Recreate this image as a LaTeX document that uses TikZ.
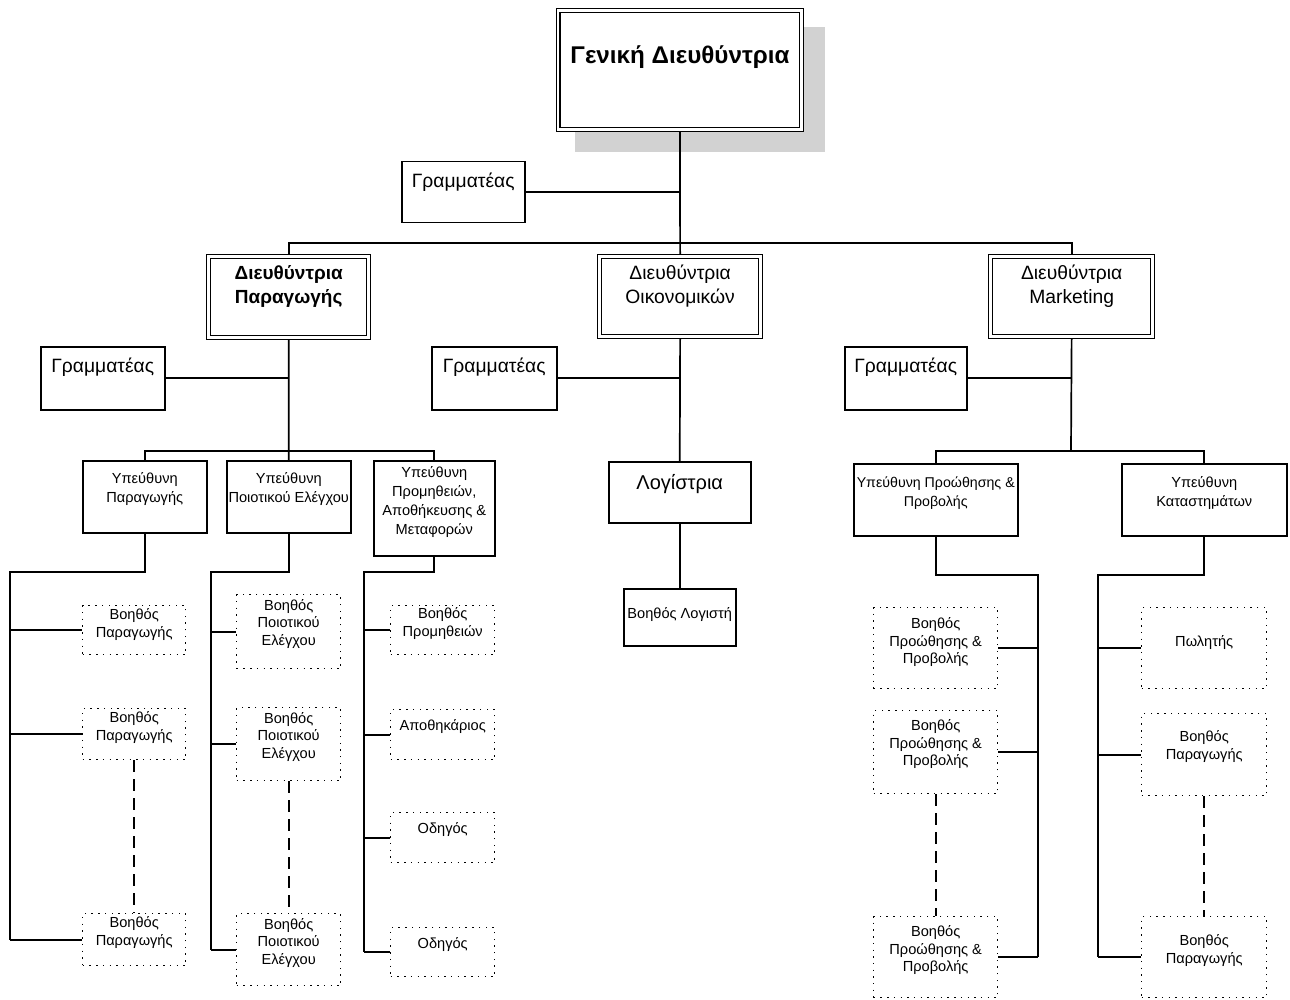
\documentclass[tikz,border=0pt]{standalone}
\usepackage{fontspec}
\setmainfont{Liberation Sans}
\pgfdeclarelayer{bg}
\pgfsetlayers{bg,main}
% box content: width, height, first baseline from top, text
\newcommand\boxtext[4]{\parbox[c][#2pt][t]{#1pt}{\centering\rule{0pt}{#3pt}#4}}
\begin{document}
\begin{tikzpicture}[x=1pt,y=-1pt,
  conn/.style={line width=1.7pt},
  gap/.style={line width=1.7pt, dash pattern=on 12pt off 7pt},
  plain/.style={draw, line width=1.5pt, inner sep=0pt, anchor=north west, fill=white},
  dbl/.style={draw, double, double distance=2.6pt, line width=1.3pt, inner sep=0pt, anchor=north west, fill=white},
  dots/.style={draw, line width=1.4pt, dash pattern=on 1.4pt off 5.3pt, inner sep=0pt, anchor=north west, fill=white},
  big/.style={font=\fontsize{19.3}{24}\selectfont},
  small/.style={font=\fontsize{14.6}{19}\selectfont},
  tiny/.style={font=\fontsize{14.6}{17.5}\selectfont}]
\useasboundingbox (0,0) rectangle (1290,1000);

% ---- top level
\node[dbl, font=\fontsize{24.2}{28}\selectfont\bfseries] (gd) at (557.5,10) {\boxtext{243.5}{119}{53}{Γενική Διευθύντρια}};
\node[plain, big] (sec0) at (401,161) {\boxtext{123}{61}{26}{Γραμματέας}};

% ---- directors
\node[dbl, font=\fontsize{19}{24}\selectfont\bfseries] (dprod) at (208,256) {\boxtext{160}{81}{23}{Διευθύντρια\\Παραγωγής}};
\node[dbl, big] (dfin) at (599,256) {\boxtext{161}{80}{23}{Διευθύντρια\\Οικονομικών}};
\node[dbl, big] (dmkt) at (990,256) {\boxtext{162}{80}{23}{Διευθύντρια\\Marketing}};

\node[plain, big] (secL) at (40,346) {\boxtext{124}{63}{26}{Γραμματέας}};
\node[plain, big] (secM) at (431,346) {\boxtext{125}{63}{26}{Γραμματέας}};
\node[plain, big] (secR) at (844,346) {\boxtext{122}{63}{26}{Γραμματέας}};

% ---- production
\node[plain, small] (up1) at (82,460) {\boxtext{124}{72}{23}{Υπεύθυνη\\Παραγωγής}};
\node[plain, small] (up2) at (226,460) {\boxtext{124}{72}{23}{Υπεύθυνη\\Ποιοτικού Ελέγχου}};
\node[plain, small] (up3) at (373,460) {\boxtext{121}{95}{17}{Υπεύθυνη\\Προμηθειών,\\Αποθήκευσης \&\\Μεταφορών}};

\node[dots, tiny] (b11) at (82,605) {\boxtext{103}{49}{14}{Βοηθός\\Παραγωγής}};
\node[dots, tiny] (b12) at (82,708) {\boxtext{103}{51}{14}{Βοηθός\\Παραγωγής}};
\node[dots, tiny] (b13) at (82,913) {\boxtext{103}{52}{14}{Βοηθός\\Παραγωγής}};

\node[dots, tiny] (b21) at (236,594) {\boxtext{104}{74}{15.5}{Βοηθός\\Ποιοτικού\\Ελέγχου}};
\node[dots, tiny] (b22) at (236,707) {\boxtext{104}{73}{15.5}{Βοηθός\\Ποιοτικού\\Ελέγχου}};
\node[dots, tiny] (b23) at (236,913) {\boxtext{104}{72}{15.5}{Βοηθός\\Ποιοτικού\\Ελέγχου}};

\node[dots, tiny] (b31) at (390,605) {\boxtext{104}{49}{13}{Βοηθός\\Προμηθειών}};
\node[dots, tiny] (b32) at (390,709) {\boxtext{104}{50}{21}{Αποθηκάριος}};
\node[dots, tiny] (b33) at (390,812) {\boxtext{104}{50}{21}{Οδηγός}};
\node[dots, tiny] (b34) at (390,927) {\boxtext{104}{49}{21}{Οδηγός}};

% ---- finance
\node[plain, font=\fontsize{20}{24}\selectfont] (log) at (608,461) {\boxtext{142}{61}{28}{Λογίστρια}};
\node[plain, small] (blog) at (623,588) {\boxtext{112}{57}{30}{Βοηθός Λογιστή}};

% ---- marketing
\node[plain, font=\fontsize{14.2}{19}\selectfont] (um1) at (853,463) {\boxtext{164}{72}{24}{Υπεύθυνη Προώθησης \&\\Προβολής}};
\node[plain, small] (um2) at (1121,463) {\boxtext{165}{72}{24}{Υπεύθυνη\\Καταστημάτων}};

\node[dots, tiny] (bm1) at (873,607) {\boxtext{124}{81}{21}{Βοηθός\\Προώθησης \&\\Προβολής}};
\node[dots, tiny] (bm2) at (873,710) {\boxtext{124}{83}{20}{Βοηθός\\Προώθησης \&\\Προβολής}};
\node[dots, tiny] (bm3) at (873,916) {\boxtext{124}{81}{20}{Βοηθός\\Προώθησης \&\\Προβολής}};

\node[dots, tiny] (bs1) at (1141,607) {\boxtext{125}{81}{39}{Πωλητής}};
\node[dots, tiny] (bs2) at (1141,713) {\boxtext{125}{82}{28}{Βοηθός\\Παραγωγής}};
\node[dots, tiny] (bs3) at (1141,916) {\boxtext{125}{81}{29}{Βοηθός\\Παραγωγής}};

\begin{pgfonlayer}{bg}
  % shadow behind the top box
  \fill[gray!35] (575,27) rectangle (825,152);

  \coordinate (tbar) at (679,243);
  \draw[conn] (gd.south) -- (dfin.north);
  \draw[conn] (dprod.north) |- (tbar) -| (dmkt.north);
  \draw[conn] (sec0.east) -- (sec0.east -| gd.south);

  \draw[conn] (secL.east) -- (secL.east -| dprod.south);
  \draw[conn] (secM.east) -- (secM.east -| dfin.south);
  \draw[conn] (secR.east) -- (secR.east -| dmkt.south);

  % production branch
  \coordinate (pbar) at (288,451);
  \draw[conn] (dprod.south) -- (up2.north);
  \draw[conn] (up1.north) |- (pbar) -| (up3.north);

  \coordinate (k1) at (10,572);
  \draw[conn] (up1.south) |- (k1) -- (k1 |- b13.west);
  \foreach \b in {b11,b12,b13} \draw[conn] (\b.west) -- (\b.west -| k1);
  \coordinate (k2) at (211,572);
  \draw[conn] (up2.south) |- (k2) -- (k2 |- b23.west);
  \foreach \b in {b21,b22,b23} \draw[conn] (\b.west) -- (\b.west -| k2);
  \coordinate (k3) at (364,572);
  \draw[conn] (up3.south) |- (k3) -- (k3 |- b34.west);
  \foreach \b in {b31,b32,b33,b34} \draw[conn] (\b.west) -- (\b.west -| k3);

  \draw[gap] (b12.south) -- (b13.north);
  \draw[gap] (b22.south) -- (b23.north);

  % finance branch
  \draw[conn] (dfin.south) -- (log.north);
  \draw[conn] (log.south) -- (blog.north);

  % marketing branch
  \coordinate (mbar) at (1071,451);
  \draw[conn] (dmkt.south) -- (mbar);
  \draw[conn] (um1.north) |- (mbar) -| (um2.north);

  \coordinate (k4) at (1038,575);
  \draw[conn] (um1.south) |- (k4) -- (k4 |- bm3.east);
  \foreach \b in {bm1,bm2,bm3} \draw[conn] (\b.east) -- (\b.east -| k4);
  \coordinate (k5) at (1098,575);
  \draw[conn] (um2.south) |- (k5) -- (k5 |- bs3.west);
  \foreach \b in {bs1,bs2,bs3} \draw[conn] (\b.west) -- (\b.west -| k5);

  \draw[gap] (bm2.south) -- (bm3.north);
  \draw[gap] (bs2.south) -- (bs3.north);
\end{pgfonlayer}
\end{tikzpicture}
\end{document}
